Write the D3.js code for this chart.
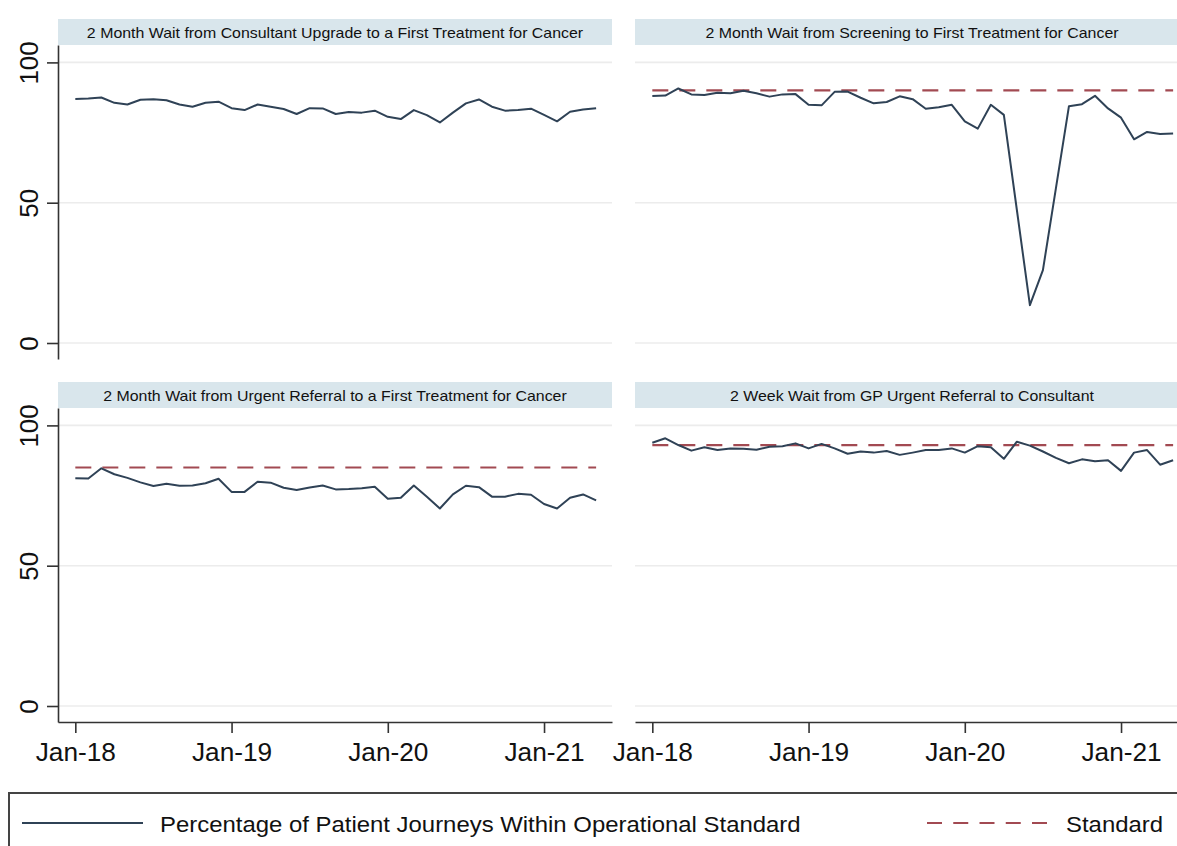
<!DOCTYPE html>
<html><head><meta charset="utf-8">
<script src="https://cdn.jsdelivr.net/npm/d3@7"></script>
<style>
body{margin:0;background:#fff;}
svg{display:block;font-family:"Liberation Sans",Arial,Helvetica,sans-serif;}
</style>
</head><body>
<svg id="chart" width="1177" height="846"></svg>
<script>
// ---- data ----
const months = d3.timeMonth.range(new Date(2018, 0, 1), new Date(2021, 5, 1)); // Jan-18 .. May-21
const panelTitles = [
  "2 Month Wait from Consultant Upgrade to a First Treatment for Cancer",
  "2 Month Wait from Screening to First Treatment for Cancer",
  "2 Month Wait from Urgent Referral to a First Treatment for Cancer",
  "2 Week Wait from GP Urgent Referral to Consultant"
];
const consultantUpgrade = [87.0,87.1,87.5,85.6,85.0,86.7,86.9,86.5,85.0,84.2,85.6,86.0,83.7,83.0,85.0,84.2,83.4,81.6,83.7,83.6,81.6,82.3,82.1,82.8,80.6,79.8,83.0,81.2,78.6,82.1,85.4,86.8,84.2,82.8,83.0,83.5,81.3,79.0,82.4,83.2,83.7];
const screening = [88.0,88.2,90.7,88.6,88.4,89.2,89.0,89.9,89.0,87.8,88.6,88.7,84.9,84.7,89.5,89.6,87.4,85.4,85.9,87.9,86.9,83.5,84.0,84.9,79.0,76.4,84.9,81.3,47.4,13.5,26.0,55.2,84.4,85.1,88.1,83.6,80.3,72.6,75.2,74.5,74.7];
const urgentReferral = [81.2,81.1,84.7,82.6,81.3,79.7,78.4,79.2,78.5,78.6,79.4,81.0,76.3,76.3,79.9,79.6,77.8,77.0,77.9,78.6,77.2,77.3,77.6,78.1,73.9,74.2,78.6,74.6,70.4,75.4,78.5,78.0,74.6,74.6,75.6,75.3,72.0,70.4,74.2,75.4,73.3];
const gpTwoWeek = [93.8,95.4,93.0,91.0,92.2,91.2,91.8,91.7,91.3,92.4,92.6,93.6,91.8,93.4,91.8,89.9,90.7,90.3,90.9,89.5,90.3,91.2,91.2,91.8,90.3,92.6,92.2,88.1,94.2,92.8,90.7,88.4,86.5,87.9,87.2,87.6,83.8,90.3,91.2,86.0,87.6];
const seriesValues = [consultantUpgrade, screening, urgentReferral, gpTwoWeek];
const standards = [null, 90, 85, 93];
const xTickMonths = [new Date(2018,0,1), new Date(2019,0,1), new Date(2020,0,1), new Date(2021,0,1)];
const xTickLabels = ["Jan-18", "Jan-19", "Jan-20", "Jan-21"];
const yTicks = [0, 50, 100];
const legendLabels = ["Percentage of Patient Journeys Within Operational Standard", "Standard"];

// ---- styles / layout ----
const lineColor = "#2f4256";
const stdColor = "#a24a52";
const stripColor = "#d9e6ec";
const gridColor = "#ececec";
const axisColor = "#333";
const textColor = "#111";

const svg = d3.select("#chart");
const colX = [58, 635];
const panelW = 554;
const stripTop = [19, 382];
const stripH = 26;
const plotH = 314;

// horizontal stretch of text glyphs, as in the reference
function stretch(sel, k) {
  sel.each(function () {
    const w = this.getComputedTextLength();
    d3.select(this).attr("textLength", w * k).attr("lengthAdjust", "spacingAndGlyphs");
  });
}

const monthIndex = d => d3.timeMonth.count(months[0], d);

seriesValues.forEach((vals, p) => {
  const col = p % 2, row = Math.floor(p / 2);
  const left = colX[col], right = left + panelW;
  const sTop = stripTop[row];
  const top = sTop + stripH, bottom = top + plotH;

  const x = d3.scaleLinear().domain([-1.33, 41.22]).range([left, right]);
  const y = d3.scaleLinear().domain([-5.7, 106.2]).range([bottom, top]);

  const g = svg.append("g");

  // strip
  g.append("rect").attr("x", left).attr("y", sTop).attr("width", panelW).attr("height", stripH)
    .attr("fill", stripColor);
  g.append("text").attr("x", (left + right) / 2).attr("y", sTop + stripH / 2 + 1)
    .attr("text-anchor", "middle").attr("dominant-baseline", "central")
    .attr("font-size", 14.6).attr("fill", textColor).text(panelTitles[p])
    .call(stretch, 1.09);

  // gridlines
  g.selectAll(".grid").data(yTicks).join("line")
    .attr("x1", left).attr("x2", right)
    .attr("y1", d => y(d)).attr("y2", d => y(d))
    .attr("stroke", gridColor).attr("stroke-width", 1.6);

  // standard line
  if (standards[p] !== null) {
    const stdLine = d3.line().x((d, i) => x(i)).y(() => y(standards[p]));
    g.append("path").datum(months).attr("d", stdLine)
      .attr("fill", "none").attr("stroke", stdColor).attr("stroke-width", 2.2)
      .attr("stroke-dasharray", "16,11");
  }

  // data line
  const line = d3.line().x((d, i) => x(monthIndex(months[i]))).y(d => y(d));
  g.append("path").datum(vals).attr("d", line)
    .attr("fill", "none").attr("stroke", lineColor).attr("stroke-width", 2)
    .attr("stroke-linejoin", "round");

  // y axis (left column)
  if (col === 0) {
    const ya = g.append("g").attr("transform", `translate(${left},0)`)
      .call(d3.axisLeft(y).tickValues(yTicks).tickSize(11).tickSizeOuter(0).tickFormat(d3.format("d")));
    ya.select(".domain").attr("stroke", axisColor).attr("stroke-width", 1.6);
    ya.selectAll(".tick line").attr("stroke", axisColor).attr("stroke-width", 1.6);
    ya.selectAll(".tick text")
      .attr("x", null).attr("dy", null)
      .attr("transform", "translate(-29,0) rotate(-90)")
      .attr("text-anchor", "middle").attr("dominant-baseline", "central")
      .attr("font-size", 26).attr("fill", textColor)
      .attr("font-family", "'Liberation Sans', Arial, sans-serif");
  }

  // x axis (bottom row)
  if (row === 1) {
    const xa = g.append("g").attr("transform", `translate(0,${bottom})`)
      .call(d3.axisBottom(x).tickValues(xTickMonths.map(monthIndex)).tickSize(11).tickSizeOuter(0)
        .tickFormat((d, i) => xTickLabels[i]));
    xa.select(".domain").attr("stroke", axisColor).attr("stroke-width", 1.6);
    xa.selectAll(".tick line").attr("stroke", axisColor).attr("stroke-width", 1.6);
    xa.selectAll(".tick text")
      .attr("y", 30).attr("dy", null).attr("dominant-baseline", "central")
      .attr("font-size", 25).attr("fill", textColor)
      .attr("font-family", "'Liberation Sans', Arial, sans-serif")
      .call(stretch, 1.05);
  }
});

// ---- legend ----
const lg = svg.append("g");
lg.append("rect").attr("x", 9).attr("y", 793).attr("width", 1300).attr("height", 120)
  .attr("fill", "none").attr("stroke", "#444").attr("stroke-width", 2);
lg.append("line").attr("x1", 22).attr("x2", 143).attr("y1", 823).attr("y2", 823)
  .attr("stroke", lineColor).attr("stroke-width", 2);
lg.append("text").attr("x", 160).attr("y", 825).attr("dominant-baseline", "central")
  .attr("font-size", 21.5).attr("fill", textColor).text(legendLabels[0])
  .call(stretch, 1.112);
lg.append("line").attr("x1", 927).attr("x2", 1047).attr("y1", 823).attr("y2", 823)
  .attr("stroke", stdColor).attr("stroke-width", 2).attr("stroke-dasharray", "15,11.25");
lg.append("text").attr("x", 1066).attr("y", 825).attr("dominant-baseline", "central")
  .attr("font-size", 21.5).attr("fill", textColor).text(legendLabels[1])
  .call(stretch, 1.112);
</script>
</body></html>
